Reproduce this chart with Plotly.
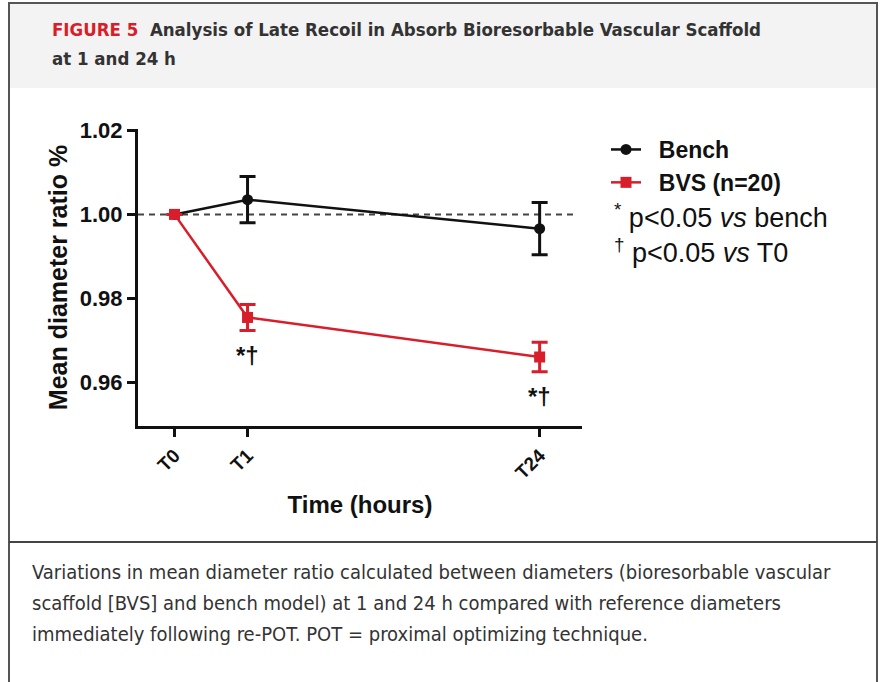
import plotly.graph_objects as go

W, H = 881, 682

# ---- data ----
time_labels = ["T0", "T1", "T24"]
time_pos = [0, 1, 5]
bench_mean = [1.000, 1.0035, 0.9966]
bench_err = [0.0, 0.0055, 0.0062]
bvs_mean = [1.000, 0.9755, 0.9661]
bvs_err = [0.0, 0.0031, 0.0035]
sig_labels = ["", "*†", "*†"]
y_ticks = [0.96, 0.98, 1.00, 1.02]

RED = "#d81e2a"
BLACK = "#111111"
AX_FONT = "Arial, Liberation Sans, sans-serif"
NARROW = "Liberation Sans Narrow, DejaVu Sans Condensed, Arial Narrow, sans-serif"

def px(x):
    return x / W

def py(y):
    return 1 - y / H

fig = go.Figure()

fig.add_trace(go.Scatter(
    x=time_pos, y=bench_mean, name="<b>\u00a0\u00a0Bench</b>", mode="lines+markers",
    line=dict(color=BLACK, width=2.5),
    marker=dict(symbol="circle", size=11, color=BLACK),
    error_y=dict(type="data", array=bench_err, color=BLACK, thickness=3, width=8),
))
fig.add_trace(go.Scatter(
    x=time_pos, y=bvs_mean, name="<b>\u00a0\u00a0BVS (n=20)</b>", mode="lines+markers",
    line=dict(color=RED, width=2.5),
    marker=dict(symbol="square", size=11, color=RED),
    error_y=dict(type="data", array=bvs_err, color=RED, thickness=3, width=8),
))

shapes = []
# header background
shapes.append(dict(type="rect", xref="paper", yref="paper", x0=px(9), x1=px(877), y0=py(88), y1=py(4),
                   fillcolor="#f3f3f3", line=dict(width=0), layer="below"))
# outer border
shapes.append(dict(type="rect", xref="paper", yref="paper", x0=px(9), x1=px(877), y0=py(700), y1=py(3),
                   line=dict(color="#555555", width=2), fillcolor="rgba(0,0,0,0)"))
# separator
shapes.append(dict(type="line", xref="paper", yref="paper", x0=px(9), x1=px(877), y0=py(542), y1=py(542),
                   line=dict(color="#444444", width=2)))
# dashed reference line at 1.00
shapes.append(dict(type="line", xref="paper", yref="y", x0=px(138), x1=px(576), y0=1.0, y1=1.0,
                   line=dict(color="#444444", width=2, dash="6px,5px"), layer="below"))

annotations = []
# header
annotations.append(dict(xref="paper", yref="paper", x=px(50), y=py(30), xanchor="left", yanchor="middle",
                        showarrow=False,
                        text="<b><span style='color:%s'>FIGURE 5</span>  Analysis of Late Recoil in Absorb Bioresorbable Vascular Scaffold</b>" % RED,
                        font=dict(family=NARROW, size=18.5, color="#333333")))
annotations.append(dict(xref="paper", yref="paper", x=px(50), y=py(58), xanchor="left", yanchor="middle",
                        showarrow=False, text="<b>at 1 and 24 h</b>",
                        font=dict(family=NARROW, size=18.5, color="#333333")))
# significance marks
for xp, m, e, s in zip(time_pos, bvs_mean, bvs_err, sig_labels):
    if s:
        annotations.append(dict(x=xp, y=m - e, xref="x", yref="y", text="<b>%s</b>" % s, showarrow=False,
                                yanchor="top", yshift=-9, font=dict(family=AX_FONT, size=24, color=BLACK)))
# p-value legend lines
annotations.append(dict(xref="paper", yref="paper", x=px(612), y=py(216), xanchor="left", yanchor="middle",
                        showarrow=False, text="<sup>*</sup> p<0.05 <i>vs</i> bench",
                        font=dict(family=AX_FONT, size=27, color=BLACK)))
annotations.append(dict(xref="paper", yref="paper", x=px(612), y=py(251), xanchor="left", yanchor="middle",
                        showarrow=False, text="<sup>†</sup> p<0.05 <i>vs</i> T0",
                        font=dict(family=AX_FONT, size=27, color=BLACK)))
# caption
caption = [
    "Variations in mean diameter ratio calculated between diameters (bioresorbable vascular",
    "scaffold [BVS] and bench model) at 1 and 24 h compared with reference diameters",
    "immediately following re-POT. POT = proximal optimizing technique.",
]
for i, line in enumerate(caption):
    annotations.append(dict(xref="paper", yref="paper", x=px(30), y=py(572 + 31 * i), xanchor="left",
                            yanchor="middle", showarrow=False, text=line,
                            font=dict(family=NARROW, size=20, color="#333333")))

fig.update_layout(
    width=W, height=H,
    margin=dict(l=0, r=0, t=0, b=0, autoexpand=False),
    paper_bgcolor="white", plot_bgcolor="white",
    shapes=shapes, annotations=annotations,
    showlegend=True,
    legend=dict(x=px(606), y=py(128), xanchor="left", yanchor="top", bgcolor="rgba(0,0,0,0)",
                font=dict(family=AX_FONT, size=23, color=BLACK), itemwidth=30, tracegroupgap=0),
    xaxis=dict(domain=[px(138), px(582)], range=[-0.5, 5.58], tickmode="array",
               tickvals=time_pos, ticktext=["<b>%s</b>" % t for t in time_labels], tickangle=-45,
               ticks="outside", ticklen=8, tickwidth=3, tickcolor=BLACK,
               showline=True, linewidth=3, linecolor=BLACK, showgrid=False, zeroline=False,
               tickfont=dict(family=AX_FONT, size=19, color=BLACK),
               title=dict(text="<b>Time (hours)</b>", font=dict(family=AX_FONT, size=24, color=BLACK),
                          standoff=15)),
    yaxis=dict(domain=[py(426), py(129)], range=[0.9497, 1.0203], tickmode="array",
               tickvals=y_ticks, ticktext=["<b>%.2f</b>" % v for v in y_ticks],
               ticks="outside", ticklen=8, tickwidth=3, tickcolor=BLACK,
               showline=True, linewidth=3, linecolor=BLACK, showgrid=False, zeroline=False,
               tickfont=dict(family=AX_FONT, size=22, color=BLACK),
               title=dict(text="<b>Mean diameter ratio %</b>", font=dict(family=AX_FONT, size=25, color=BLACK),
                          standoff=6)),
)

fig.write_html("out.html")
